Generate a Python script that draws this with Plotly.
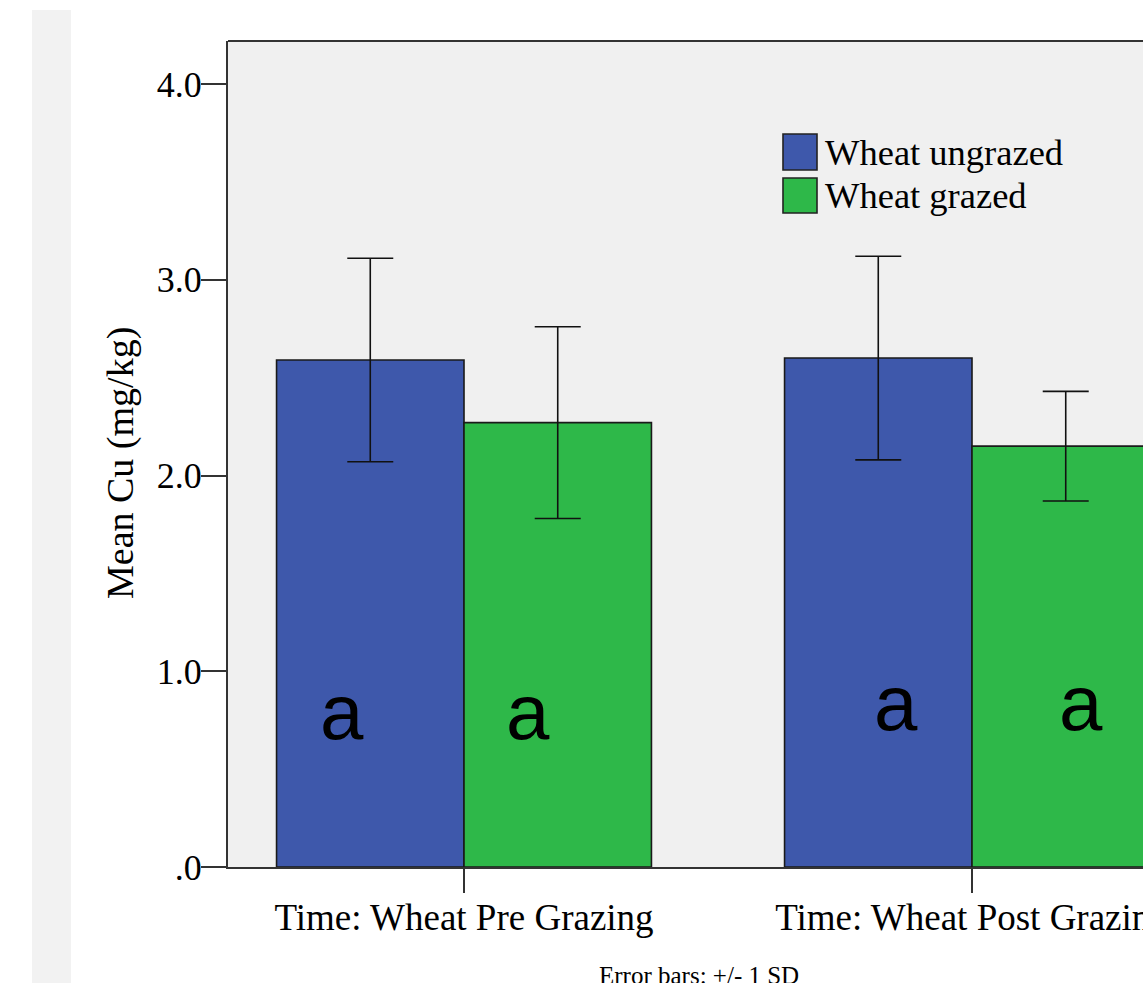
import plotly.graph_objects as go

categories = ["Time: Wheat Pre Grazing", "Time: Wheat Post Grazing"]
series_names = ["Wheat ungrazed", "Wheat grazed"]
mean_ungrazed = [2.59, 2.60]
mean_grazed = [2.27, 2.15]
sd_ungrazed = [0.52, 0.52]
sd_grazed = [0.49, 0.28]
letters_ungrazed = ["a", "a"]
letters_grazed = ["a", "a"]
ytick_vals = [0, 1, 2, 3, 4]
ytick_text = [".0", "1.0", "2.0", "3.0", "4.0"]

BLUE = "#3E58AB"
GREEN = "#2EB849"
SERIF = "Liberation Serif, Times New Roman, serif"
SANS = "Liberation Sans, Arial, sans-serif"

W, H = 1143, 983
L, R, T, B = 228, 0, 41, 116
pw, ph = W - L - R, H - T - B


def px_x(p):
    return (p - L) / pw


def px_y(p):
    return (H - B - p) / ph


fig = go.Figure()
for name, vals, sds, col in [
    (series_names[0], mean_ungrazed, sd_ungrazed, BLUE),
    (series_names[1], mean_grazed, sd_grazed, GREEN),
]:
    fig.add_trace(go.Bar(
        x=categories, y=vals, name=name,
        marker=dict(color=col, line=dict(color="#1a1a1a", width=1.6)),
        error_y=dict(type="data", array=sds, visible=True,
                     color="#111111", thickness=1.6, width=23),
        showlegend=False,
    ))

annotations = []
# significance letters
letter_offsets = [(-0.24, 0.126), (-0.15, 0.215)]
letter_y = [0.79, 0.84]
for i in range(len(categories)):
    for j, letters in enumerate([letters_ungrazed, letters_grazed]):
        annotations.append(dict(
            x=i + letter_offsets[i][j], y=letter_y[i], xref="x", yref="y",
            text=letters[i], showarrow=False,
            font=dict(family=SANS, size=78, color="black"),
            xanchor="center", yanchor="middle"))

# y-axis title
annotations.append(dict(
    x=px_x(120), y=px_y(463), xref="paper", yref="paper",
    text="Mean Cu (mg/kg)", textangle=-90, showarrow=False,
    font=dict(family=SERIF, size=38, color="black"),
    xanchor="center", yanchor="middle"))

# footnote
annotations.append(dict(
    x=px_x(699), y=px_y(975), xref="paper", yref="paper",
    text="Error bars: +/- 1 SD", showarrow=False,
    font=dict(family=SERIF, size=25, color="black"),
    xanchor="center", yanchor="middle"))

shapes = []
# left page strip
shapes.append(dict(type="rect", xref="paper", yref="paper",
                   x0=px_x(32), x1=px_x(71), y0=px_y(1000), y1=px_y(10),
                   fillcolor="#f2f2f2", line=dict(width=0), layer="above"))
# top frame line
shapes.append(dict(type="line", xref="paper", yref="paper",
                   x0=0, x1=1.01, y0=1, y1=1,
                   line=dict(color="#333333", width=2)))

# manual legend
legend_items = [(series_names[0], BLUE, 134, 170, 153), (series_names[1], GREEN, 178, 213, 196)]
for name, col, y0, y1, yc in legend_items:
    shapes.append(dict(type="rect", xref="paper", yref="paper",
                       x0=px_x(783), x1=px_x(817), y0=px_y(y1), y1=px_y(y0),
                       fillcolor=col, line=dict(color="#222222", width=1.6)))
    annotations.append(dict(
        x=px_x(823), y=px_y(yc), xref="paper", yref="paper",
        text=name, showarrow=False,
        font=dict(family=SERIF, size=36.5, color="black"),
        xanchor="left", yanchor="middle"))

fig.update_layout(
    width=W, height=H,
    margin=dict(l=L, r=R, t=T, b=B, pad=0, autoexpand=False),
    paper_bgcolor="white", plot_bgcolor="#f0f0f0",
    barmode="group", bargap=0.262, bargroupgap=0,
    annotations=annotations, shapes=shapes,
    showlegend=False,
)
fig.update_xaxes(
    type="category", range=[(L - 464) / 508, (W - 464) / 508],
    automargin=False,
    showline=True, linecolor="#333333", linewidth=2,
    ticks="outside", ticklen=24, tickwidth=2, tickcolor="#333333",
    ticklabelstandoff=-7,
    tickfont=dict(family=SERIF, size=37, color="black"),
    showgrid=False, zeroline=False,
)
fig.update_yaxes(
    range=[0, ph / 195.75], automargin=False,
    tickvals=ytick_vals, ticktext=ytick_text,
    showline=True, linecolor="#333333", linewidth=2,
    ticks="outside", ticklen=25, tickwidth=2, tickcolor="#333333",
    ticklabelstandoff=-8,
    tickfont=dict(family=SERIF, size=36, color="black"),
    showgrid=False, zeroline=False,
)

fig.write_html("out.html")
